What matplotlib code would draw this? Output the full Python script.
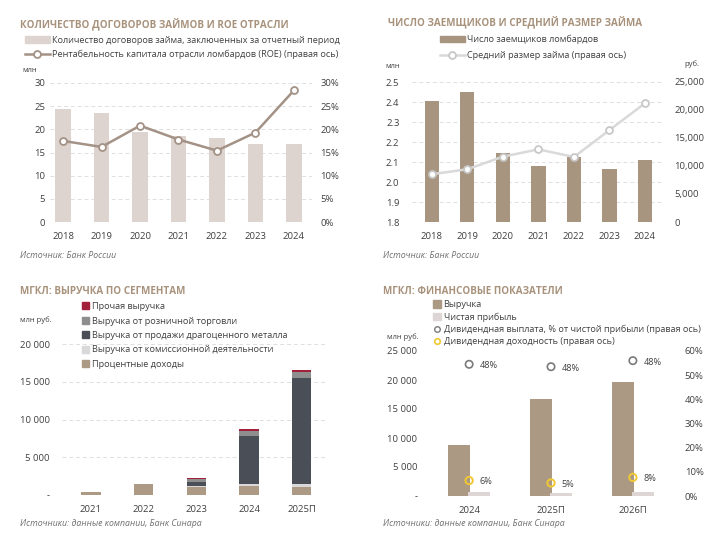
import numpy as np
import matplotlib
matplotlib.use("Agg")
import matplotlib.pyplot as plt
from matplotlib.patches import Patch
from matplotlib.lines import Line2D
from matplotlib.ticker import FuncFormatter

plt.rcParams['font.family'] = ['Open Sans', 'DejaVu Sans']
plt.rcParams['font.size'] = 6.5

# --- data ---
years1 = ["2018", "2019", "2020", "2021", "2022", "2023", "2024"]
loan_contracts = [24.4, 23.5, 19.4, 18.6, 18.2, 16.9, 16.8]   # млн
roe = [17.5, 16.2, 20.8, 17.8, 15.4, 19.3, 28.4]              # %

borrowers = [2.405, 2.450, 2.147, 2.082, 2.127, 2.064, 2.110]  # млн
avg_loan = [8530, 9420, 11670, 12970, 11610, 16410, 21210]     # руб.

years3 = ["2021", "2022", "2023", "2024", "2025П"]
interest_inc = [350, 1460, 1100, 1200, 1100]
commission_inc = [0, 0, 80, 280, 310]
metal_sales = [0, 0, 560, 6320, 14090]
retail_sales = [0, 0, 400, 700, 840]
other_rev = [0, 0, 70, 220, 180]

years4 = ["2024", "2025П", "2026П"]
revenue = [8870, 16650, 19700]
net_profit = [690, 580, 750]
payout_pos = [54.5, 53.5, 56.0]
payout_labels = ["48%", "48%", "48%"]
div_yield = [6.4, 5.4, 7.7]
yield_labels = ["6%", "5%", "8%"]

W, H = 720, 546
fig = plt.figure(figsize=(W / 100, H / 100), dpi=100)

TITLE_C = '#a8927c'
TXT_C = '#404040'
GRID_C = '#dedede'


def px_axes(x0, y0, x1, y1):
    return fig.add_axes([x0 / W, 1 - y1 / H, (x1 - x0) / W, (y1 - y0) / H])


def px(x, y):
    return x / W, 1 - y / H


def clean(ax, grid=True):
    for s in ax.spines.values():
        s.set_visible(False)
    ax.tick_params(length=0, colors=TXT_C, labelsize=6.8)
    if grid:
        ax.yaxis.grid(True, linestyle=(0, (4, 3)), color=GRID_C, lw=0.7)
    ax.set_axisbelow(True)


def title(x, y, s):
    fig.text(*px(x, y), s, color=TITLE_C, fontsize=7.1, fontweight='bold', va='center')


def source(x, y, s):
    fig.text(*px(x, y), s, color='#707070', fontsize=6.3, style='italic', va='center')


space_fmt = FuncFormatter(lambda v, p: '-' if v == 0 else '{:,.0f}'.format(v).replace(',', ' '))

# ---------------- panel 1 ----------------
ax1 = px_axes(50, 83, 312, 222)
x1 = np.arange(len(years1))
ax1.bar(x1, loan_contracts, width=0.4, color='#ddd3cf')
ax1.set_ylim(0, 30)
ax1.set_xlim(-0.34, 6.47)
ax1.set_yticks(range(0, 31, 5))
ax1.set_xticks(x1, years1)
clean(ax1)
ax1.tick_params(axis='x', pad=7)
ax1b = ax1.twinx()
ax1b.plot(x1, roe, color='#a39285', lw=1.8, marker='o', ms=5, mfc='white', mew=1.3)
ax1b.set_ylim(0, 30)
ax1b.set_yticks(range(0, 31, 5))
ax1b.yaxis.set_major_formatter(FuncFormatter(lambda v, p: '%d%%' % v))
clean(ax1b, grid=False)
ax1b.tick_params(axis='y', pad=6)
title(20, 25, "КОЛИЧЕСТВО ДОГОВОРОВ ЗАЙМОВ И ROE ОТРАСЛИ")
fig.text(*px(22, 70), "млн", color=TXT_C, fontsize=5.5, va='center')
fig.legend(handles=[Patch(color='#ddd3cf', label="Количество договоров займа, заключенных за отчетный период"),
                    Line2D([], [], color='#a39285', lw=1.8, marker='o', ms=5, mfc='white', mew=1.3,
                           label="Рентабельность капитала отрасли ломбардов (ROE) (правая ось)")],
           loc='upper left', bbox_to_anchor=px(25, 36), frameon=False, fontsize=6.6,
           handlelength=2.7, handleheight=0.75, handletextpad=0.25, labelspacing=0.55,
           borderaxespad=0, borderpad=0, labelcolor=TXT_C)
source(20, 255, "Источник: Банк России")

# ---------------- panel 2 ----------------
ax2 = px_axes(412, 82, 662, 222)
x2 = np.arange(len(years1))
ax2.bar(x2, borrowers, width=0.4, color='#a8957f')
ax2.set_ylim(1.8, 2.5)
ax2.set_xlim(-0.56, 6.48)
ax2.set_yticks(np.arange(1.8, 2.51, 0.1))
ax2.yaxis.set_major_formatter(FuncFormatter(lambda v, p: '%.1f' % v))
ax2.set_xticks(x2, years1)
clean(ax2)
ax2.tick_params(axis='x', pad=7)
ax2.tick_params(axis='y', pad=9)
ax2b = ax2.twinx()
ax2b.plot(x2, avg_loan, color='#d9d9d9', lw=1.8, marker='o', ms=5, mfc='white', mec='#c8c8c8', mew=1.3)
ax2b.set_ylim(0, 25000)
ax2b.set_yticks(range(0, 25001, 5000))
ax2b.yaxis.set_major_formatter(FuncFormatter(lambda v, p: '{:,.0f}'.format(v)))
clean(ax2b, grid=False)
ax2b.tick_params(axis='y', pad=9)
title(388, 23, "ЧИСЛО ЗАЕМЩИКОВ И СРЕДНИЙ РАЗМЕР ЗАЙМА")
fig.text(*px(385, 66), "млн", color=TXT_C, fontsize=5.5, va='center')
fig.text(*px(684, 64), "руб.", color=TXT_C, fontsize=5.5, va='center')
fig.legend(handles=[Patch(color='#a8957f', label="Число заемщиков ломбардов"),
                    Line2D([], [], color='#d9d9d9', lw=1.8, marker='o', ms=5, mfc='white', mec='#c8c8c8', mew=1.3,
                           label="Средний размер займа (правая ось)")],
           loc='upper left', bbox_to_anchor=px(440, 35), frameon=False, fontsize=6.6,
           handlelength=2.7, handleheight=0.75, handletextpad=0.25, labelspacing=0.75,
           borderaxespad=0, borderpad=0, labelcolor=TXT_C)
source(383, 255, "Источник: Банк России")

# ---------------- panel 3 ----------------
ax3 = px_axes(62, 344, 327, 495)
x3 = np.arange(len(years3))
seg = [(interest_inc, '#ad9a84', "Процентные доходы"),
       (commission_inc, '#d9d9d9', "Выручка от комиссионной деятельности"),
       (metal_sales, '#4a4e57', "Выручка от продажи драгоценного металла"),
       (retail_sales, '#8e8e8e', "Выручка от розничной торговли"),
       (other_rev, '#a3203a', "Прочая выручка")]
bottom = np.zeros(len(years3))
for vals, col, lab in seg:
    ax3.bar(x3, vals, bottom=bottom, width=0.37, color=col, label=lab)
    bottom += np.array(vals)
ax3.set_ylim(0, 20000)
ax3.set_xlim(-0.55, 4.48)
ax3.set_yticks(range(0, 20001, 5000))
ax3.yaxis.set_major_formatter(space_fmt)
ax3.set_xticks(x3, years3)
clean(ax3)
ax3.tick_params(axis='x', pad=7)
ax3.tick_params(axis='y', pad=9)
title(20, 292, "МГКЛ: ВЫРУЧКА ПО СЕГМЕНТАМ")
fig.text(*px(20, 320), "млн руб.", color=TXT_C, fontsize=5.5, va='center')
h3 = [Patch(color=c, label=l) for _, c, l in seg][::-1]
fig.legend(handles=h3, loc='upper left', bbox_to_anchor=px(82, 302), frameon=False, fontsize=6.6,
           handlelength=0.75, handleheight=0.75, handletextpad=0.3, labelspacing=0.6,
           borderaxespad=0, borderpad=0, labelcolor=TXT_C)
source(20, 523, "Источники: данные компании, Банк Синара")

# ---------------- panel 4 ----------------
ax4 = px_axes(420, 351, 682, 496)
x4 = np.arange(len(years4))
ax4.bar(x4 - 0.12, revenue, width=0.27, color='#ab9983')
ax4.bar(x4 + 0.12, net_profit, width=0.27, color='#ddd6d4')
ax4.set_ylim(0, 25000)
ax4.set_xlim(-0.6, 2.6)
ax4.set_yticks(range(0, 25001, 5000))
ax4.yaxis.set_major_formatter(space_fmt)
ax4.set_xticks(x4, years4)
clean(ax4, grid=False)
ax4.tick_params(axis='x', pad=7)
ax4.tick_params(axis='y', pad=2)
ax4b = ax4.twinx()
ax4b.set_ylim(0, 60)
ax4b.set_yticks(range(0, 61, 10))
ax4b.yaxis.set_major_formatter(FuncFormatter(lambda v, p: '%d%%' % v))
ax4b.scatter(x4, payout_pos, s=28, facecolor='none', edgecolor='#7a7a7a', lw=1.2, zorder=3)
ax4b.scatter(x4, div_yield, s=28, facecolor='none', edgecolor='#f0c832', lw=1.4, zorder=3)
for i in range(len(years4)):
    ax4b.annotate(payout_labels[i], (x4[i], payout_pos[i]), xytext=(7.5, -1), textcoords='offset points',
                  va='center', fontsize=6.6, color=TXT_C)
    ax4b.annotate(yield_labels[i], (x4[i], div_yield[i]), xytext=(7.5, -1), textcoords='offset points',
                  va='center', fontsize=6.6, color=TXT_C)
clean(ax4b, grid=False)
ax4b.tick_params(axis='y', pad=2)
title(383, 291, "МГКЛ: ФИНАНСОВЫЕ ПОКАЗАТЕЛИ")
fig.text(*px(387, 337), "млн руб.", color=TXT_C, fontsize=5.5, va='center')
h4 = [Patch(color='#ab9983', label="Выручка"),
      Patch(color='#ddd6d4', label="Чистая прибыль"),
      Line2D([], [], ls='none', marker='o', ms=4, mfc='none', mec='#7a7a7a', mew=1,
             label="Дивидендная выплата, % от чистой прибыли (правая ось)"),
      Line2D([], [], ls='none', marker='o', ms=4, mfc='none', mec='#f0c832', mew=1.2,
             label="Дивидендная доходность (правая ось)")]
fig.legend(handles=h4, loc='upper left', bbox_to_anchor=px(433, 300), frameon=False, fontsize=6.6,
           handlelength=0.9, handleheight=0.9, handletextpad=0.25, labelspacing=0.35,
           borderaxespad=0, borderpad=0, labelcolor=TXT_C)
source(383, 523, "Источники: данные компании, Банк Синара")

fig.savefig("out.png", dpi=100, facecolor='white')
